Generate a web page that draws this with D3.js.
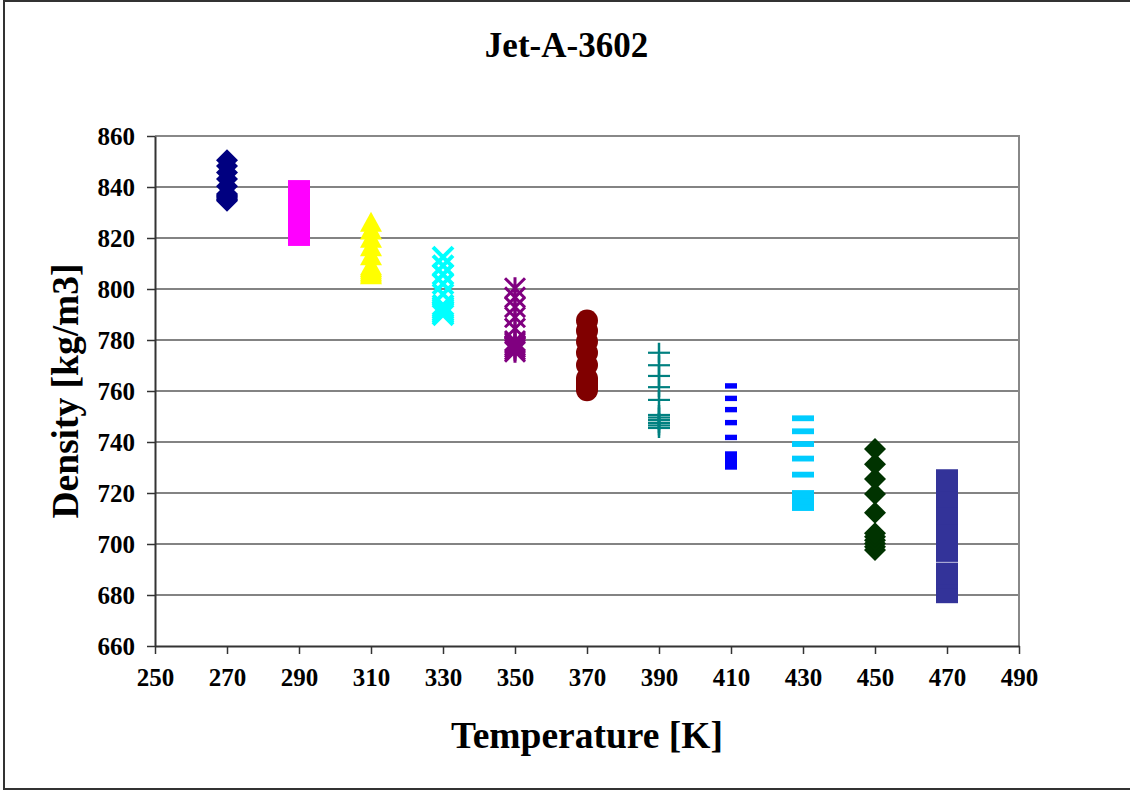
<!DOCTYPE html>
<html>
<head>
<meta charset="utf-8">
<script src="https://cdn.jsdelivr.net/npm/d3@7"></script>
<style>
  body { margin: 0; background: #fff; }
  text { font-family: "Liberation Serif", "Times New Roman", serif; font-weight: bold; fill: #000; }
</style>
</head>
<body>
<script>
// densities, one list per temperature (low -> high pressure)
var d270 = [834.6, 835.1, 835.7, 836.2, 836.8, 837.3, 840.3, 843.1, 845.7, 848.2, 850.5];
var d290 = [821.2, 821.8, 822.4, 822.9, 823.5, 824.1, 827.3, 830.3, 833.1, 835.8, 838.4];
var d310 = [805.8, 806.5, 807.2, 807.9, 808.6, 809.3, 813.2, 816.8, 820.1, 823.3, 826.4];
var d330 = [789.9, 790.7, 791.4, 792.2, 792.9, 793.7, 798.0, 802.0, 805.7, 809.2, 812.5];
var d350 = [775.4, 776.2, 777.1, 777.9, 778.8, 779.6, 784.5, 788.9, 792.9, 796.7, 800.3];
var d370 = [760.3, 761.2, 762.1, 763.1, 764.0, 764.9, 770.2, 775.0, 779.4, 783.6, 787.6];
var d390 = [745.5, 746.5, 747.5, 748.6, 749.6, 750.6, 756.5, 761.5, 765.9, 770.1, 775.0];
var d410 = [730.2, 731.2, 732.2, 733.3, 734.3, 735.3, 741.8, 747.6, 752.7, 757.1, 762.0];
var d430 = [714.1, 715.3, 716.5, 717.6, 718.8, 720.0, 727.2, 733.5, 739.2, 744.2, 749.3];
var d450 = [697.6, 698.9, 700.2, 701.5, 702.8, 704.2, 712.3, 719.6, 725.5, 731.3, 737.3];
var d470 = [681.1, 682.6, 684.0, 685.5, 686.9, 688.4, 697.3, 705.1, 712.1, 718.7, 725.0];

var temps   = [270, 290, 310, 330, 350, 370, 390, 410, 430, 450, 470];
var dens    = [d270, d290, d310, d330, d350, d370, d390, d410, d430, d450, d470];
var colors  = ["#000080", "#ff00ff", "#ffff00", "#00ffff", "#800080", "#800000",
               "#008080", "#0000ff", "#00ccff", "#003300", "#333399"];
var shapes  = ["diamond", "square", "triangle", "x", "star", "circle",
               "plus", "shortdash", "dash", "diamond", "square"];

var xTicks = [250, 270, 290, 310, 330, 350, 370, 390, 410, 430, 450, 470, 490];
var yTicks = [660, 680, 700, 720, 740, 760, 780, 800, 820, 840, 860];

var W = 1130, H = 791;
var margin = {top: 136, right: 111, bottom: 145, left: 155};
var width = W - margin.left - margin.right;
var height = H - margin.top - margin.bottom;

var svg = d3.select("body").append("svg")
    .attr("width", W)
    .attr("height", H);

// outer chart frame
svg.append("rect")
    .attr("x", 4).attr("y", 1)
    .attr("width", 1140).attr("height", 788)
    .attr("fill", "#fff")
    .attr("stroke", "#333").attr("stroke-width", 2);

var g = svg.append("g")
    .attr("transform", "translate(" + margin.left + "," + margin.top + ")");

var x = d3.scaleLinear().domain([250, 490]).range([0, width]);
var y = d3.scaleLinear().domain([660, 860]).range([height, 0]);

// gridlines
g.selectAll(".grid").data(yTicks.slice(1, -1)).enter().append("line")
    .attr("x1", 0).attr("x2", width)
    .attr("y1", function(d) { return y(d); })
    .attr("y2", function(d) { return y(d); })
    .attr("stroke", "#5a5a5a").attr("stroke-width", 1.3);

// plot area border (top/right grey)
g.append("path")
    .attr("d", "M0," + y(860) + "H" + width + "V" + height)
    .attr("fill", "none").attr("stroke", "#888").attr("stroke-width", 2);

// axes
var xAxis = g.append("g")
    .attr("transform", "translate(0," + height + ")")
    .call(d3.axisBottom(x).tickValues(xTicks).tickSize(8).tickPadding(14).tickSizeOuter(0));
var yAxis = g.append("g")
    .call(d3.axisLeft(y).tickValues(yTicks).tickSize(8).tickPadding(12).tickSizeOuter(0));

[xAxis, yAxis].forEach(function(a) {
  a.select(".domain").attr("stroke", "#333").attr("stroke-width", 2);
  a.selectAll(".tick line").attr("stroke", "#333").attr("stroke-width", 1.5);
  a.selectAll(".tick text")
      .style("font-family", "'Liberation Serif', serif")
      .style("font-weight", "bold")
      .style("font-size", "25px")
      .attr("fill", "#000");
});
yAxis.selectAll(".tick text").attr("dy", "0.34em");

// markers
var s = 11;
function drawMarker(sel, shape, color) {
  if (shape === "diamond") {
    sel.append("path").attr("d", "M0,-" + s + "L" + s + ",0L0," + s + "L-" + s + ",0Z").attr("fill", color);
  } else if (shape === "square") {
    sel.append("rect").attr("x", -s).attr("y", -s).attr("width", 2 * s).attr("height", 2 * s).attr("fill", color);
  } else if (shape === "triangle") {
    sel.append("path").attr("d", "M0,-10L11,10L-11,10Z").attr("fill", color);
  } else if (shape === "circle") {
    sel.append("circle").attr("r", s).attr("fill", color);
  } else if (shape === "x") {
    sel.append("path").attr("d", "M-10,-10L10,10M10,-10L-10,10")
        .attr("stroke", color).attr("stroke-width", 4).attr("fill", "none");
  } else if (shape === "star") {
    sel.append("path").attr("d", "M-10,-10L10,10M10,-10L-10,10M0,-11V11")
        .attr("stroke", color).attr("stroke-width", 3).attr("fill", "none");
  } else if (shape === "plus") {
    sel.append("path").attr("d", "M-11,0H11").attr("stroke", color).attr("stroke-width", 2.2);
    sel.append("path").attr("d", "M0,-10V10").attr("stroke", color).attr("stroke-width", 2.5);
  } else if (shape === "shortdash") {
    sel.append("rect").attr("x", -6).attr("y", -2.7).attr("width", 12).attr("height", 5.4).attr("fill", color);
  } else if (shape === "dash") {
    sel.append("rect").attr("x", -11).attr("y", -2.9).attr("width", 22).attr("height", 5.8).attr("fill", color);
  }
}

temps.forEach(function(t, i) {
  var series = g.append("g");
  series.selectAll("g").data(dens[i]).enter().append("g")
      .attr("transform", function(d) { return "translate(" + x(t) + "," + y(d) + ")"; })
      .each(function() { drawMarker(d3.select(this), shapes[i], colors[i]); });
});

// title and axis labels
svg.append("text")
    .attr("x", 566.5).attr("y", 57)
    .attr("text-anchor", "middle")
    .style("font-size", "35px")
    .text("Jet-A-3602");

svg.append("text")
    .attr("x", margin.left + width / 2).attr("y", 748)
    .attr("text-anchor", "middle")
    .style("font-size", "37.5px")
    .text("Temperature [K]");

svg.append("text")
    .attr("transform", "translate(78,391) rotate(-90)")
    .attr("text-anchor", "middle")
    .style("font-size", "37.5px")
    .text("Density [kg/m3]");
</script>
</body>
</html>
